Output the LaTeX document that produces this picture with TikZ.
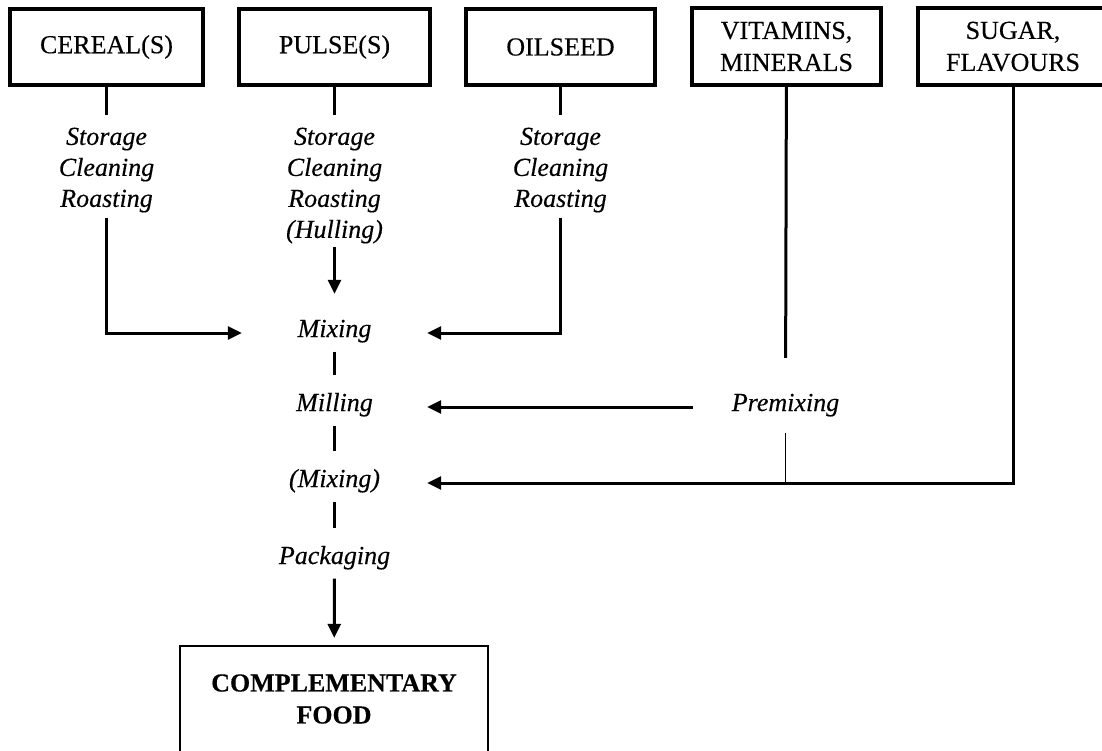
\documentclass[tikz,border=0pt]{standalone}
\usepackage{fontspec}
\setmainfont{Liberation Serif}[FakeBold=0.3]
\usetikzlibrary{arrows.meta}
\begin{document}
\begin{tikzpicture}[x=1pt,y=-1pt,
  srcbox/.style={draw, line width=3.2pt, inner sep=0pt, align=center,
    font=\fontsize{26}{32}\selectfont},
  steps/.style={inner sep=0pt, align=center, anchor=north,
    font=\fontsize{26}{31}\selectfont\itshape},
  stage/.style={inner xsep=0pt, inner ysep=10pt, minimum width=185pt,
    text height=26pt, text depth=4.5pt, anchor=base,
    font=\fontsize{26}{31}\selectfont\itshape},
  link/.style={line width=3pt},
  fine/.style={line width=1.8pt},
  flow/.style={link, -{Triangle[length=14pt,width=13pt]}},
]
\useasboundingbox (0,0) rectangle (1102,750);
\clip (0,0) rectangle (1102,750);

% raw materials
\node[srcbox, minimum width=193pt, minimum height=76pt] (cereal) at (106.5,47) {CEREAL(S)};
\node[srcbox, minimum width=191pt, minimum height=76pt] (pulse) at (334.5,47) {PULSE(S)};
\node[srcbox, minimum width=189pt, minimum height=76pt] (oil) at (560.5,47) {OILSEED};
\node[srcbox, minimum width=189pt, minimum height=77pt] (vit) at (786.5,46.5) {VITAMINS,\\MINERALS};
\node[srcbox, minimum width=190pt, minimum height=77pt] (sugar) at (1013,46.5) {SUGAR,\\FLAVOURS};

% pre-treatment of each raw material
\node[steps] (cst) at (106.5,127.5) {Storage\\Cleaning\\Roasting};
\node[steps] (pst) at (334.5,127.5) {Storage\\Cleaning\\Roasting\\(Hulling)};
\node[steps] (ost) at (560.5,127.5) {Storage\\Cleaning\\Roasting};

% processing line
\node[stage] (mix)  at (334.5,337) {Mixing};
\node[stage] (mill) at (334.5,411) {Milling};
\node[stage] (mix2) at (334.5,487) {(Mixing)};
\node[stage] (pack) at (334.5,564) {Packaging};
\node[stage] (prem) at (785.5,411) {Premixing};

% product
\node[draw, line width=2.4pt, minimum width=308pt, minimum height=106pt, align=center,
  font=\fontsize{26}{32}\selectfont\bfseries] (comp) at (334,699) {COMPLEMENTARY\\FOOD};

% entry points of the side feeds, level with the arrows
\coordinate (mixL)  at ([yshift=4pt]mix.base west);
\coordinate (mixR)  at ([yshift=4pt]mix.base east);
\coordinate (millR) at ([yshift=4pt]mill.base east);
\coordinate (premL) at ([yshift=4pt]prem.base west);
\coordinate (mix2R) at ([yshift=4pt]mix2.base east);

% connectors
\draw[link, shorten >=13pt] (cereal) -- (cst);
\draw[link, shorten >=13pt] (pulse) -- (pst);
\draw[link, shorten >=13pt] (oil) -- (ost);
\draw[flow, shorten <=5pt] (cst.south) |- (mixL);
\draw[flow, shorten <=3pt, shorten >=7pt] (pst.south) -- (mix.north);
\draw[flow, shorten <=5pt] (ost.south) |- (mixR);
\draw[link] (mix) -- (mill);
\draw[link] (mill) -- (mix2);
\draw[link] (mix2) -- (pack);
\draw[flow, shorten >=7pt] (pack) -- (comp);
\draw[link, shorten >=17pt] (vit) -- (prem);
\draw[flow] (premL) -- (millR);
\draw[fine, shorten <=7.5pt] (prem.south) -- (prem.south |- mix2R);
\draw[flow] (sugar.south) |- (mix2R);
\end{tikzpicture}
\end{document}
